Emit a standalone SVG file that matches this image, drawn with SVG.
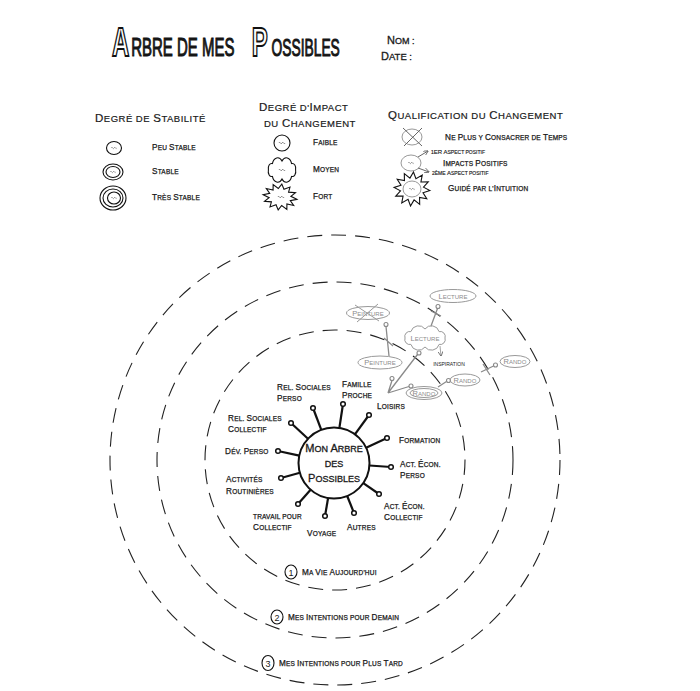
<svg xmlns="http://www.w3.org/2000/svg" width="700" height="691" viewBox="0 0 700 691">
<defs>
<style>
text{font-family:"Liberation Sans",Arial,sans-serif;fill:#1a1a1a}
.s{font-size:6.5px;letter-spacing:.2px;stroke:#1a1a1a;stroke-width:.25}
.c{font-size:8.2px}
.h{font-size:9.5px;letter-spacing:.5px;stroke:#1a1a1a;stroke-width:.2}
.hc{font-size:11.5px}
.x{font-size:5px;stroke:#1a1a1a;stroke-width:.15}
.xc{font-size:6px}
.gt{font-size:6px;fill:#8c8c8c;text-anchor:middle}
.gtc{font-size:7.5px}
.ctr{font-size:9px;text-anchor:middle;stroke:#1a1a1a;stroke-width:.3}
.ctrc{font-size:11px}
.tt{stroke:#111;stroke-width:1}
.ring{fill:none;stroke:#222;stroke-width:1.1;stroke-dasharray:15 9}
.k{fill:none;stroke:#111;stroke-width:1.1}
.gk{fill:none;stroke:#999;stroke-width:1}
.sq{fill:none;stroke:#333;stroke-width:.7}
.spoke{stroke:#111;stroke-width:2.2}
.dot{fill:#fff;stroke:#111;stroke-width:1.5}
.gdot{fill:#fff;stroke:#888;stroke-width:1.1}
.gl{stroke:#8a8a8a;stroke-width:1.3;fill:none}
.big{font-weight:bold;fill:#fff;stroke:#111;stroke-width:2}
</style>
<path id="cloud" vector-effect="non-scaling-stroke" d="M20,0 A5,5 0 0 1 14.1,6.4 A8,8 0 0 1 0,9 A8,8 0 0 1 -14.1,6.4 A5,5 0 0 1 -20,0 A5,5 0 0 1 -14.1,-6.4 A8,8 0 0 1 0,-9 A8,8 0 0 1 14.1,-6.4 A5,5 0 0 1 20,0 Z"/>
<polygon id="star" vector-effect="non-scaling-stroke" points="1,0 .628,.168 .866,.5 .46,.46 .5,.866 .168,.628 0,1 -.168,.628 -.5,.866 -.46,.46 -.866,.5 -.628,.168 -1,0 -.628,-.168 -.866,-.5 -.46,-.46 -.5,-.866 -.168,-.628 0,-1 .168,-.628 .5,-.866 .46,-.46 .866,-.5 .628,-.168"/>
<path id="sq" d="M-4,0 q1,-2 2,0 t2,0 t2,0 t2,0"/>
<marker id="ah" viewBox="0 0 6 6" refX="5.5" refY="3" markerWidth="5" markerHeight="5" markerUnits="userSpaceOnUse" orient="auto">
<path d="M0,0 L6,3 L0,6" fill="none" stroke="#666" stroke-width="1"/>
</marker>
</defs>
<rect width="700" height="691" fill="#fff"/>

<g id="title">
<text transform="translate(112,56) scale(0.6,1)"><tspan class="big" font-size="40" x="0">A</tspan><tspan class="tt" font-size="25" x="32">RBRE DE MES</tspan><tspan class="big" font-size="40" x="233">P</tspan><tspan class="tt" font-size="23" x="266">OSSIBLES</tspan></text>
<text x="387" y="44" font-size="9" stroke="#1a1a1a" stroke-width=".3"><tspan font-size="11">N</tspan>OM :</text>
<text x="381" y="60" font-size="9.5" stroke="#1a1a1a" stroke-width=".3"><tspan font-size="11">D</tspan>ATE :</text>
</g>

<g id="legend-stability">
<text class="h" x="95" y="122"><tspan class="hc">D</tspan>EGRÉ DE <tspan class="hc">S</tspan>TABILITÉ</text>
<ellipse class="k" cx="114" cy="148" rx="7.5" ry="6.5"/>
<use href="#sq" class="sq" transform="translate(114,148) scale(.7)"/>
<text class="s" x="152" y="150"><tspan class="c">P</tspan>EU <tspan class="c">S</tspan>TABLE</text>
<ellipse class="k" cx="113" cy="172" rx="10" ry="8"/>
<ellipse class="k" cx="113" cy="172" rx="7" ry="5.5"/>
<use href="#sq" class="sq" transform="translate(113,172) scale(.7)"/>
<text class="s" x="152" y="174"><tspan class="c">S</tspan>TABLE</text>
<ellipse class="k" cx="113" cy="198" rx="13" ry="12"/>
<ellipse class="k" cx="113" cy="198" rx="10" ry="9"/>
<ellipse class="k" cx="114" cy="198" rx="6.5" ry="6"/>
<use href="#sq" class="sq" transform="translate(114,198) scale(.7)"/>
<text class="s" x="152" y="200"><tspan class="c">T</tspan>RÈS <tspan class="c">S</tspan>TABLE</text>
</g>

<g id="legend-impact">
<text class="h" x="259" y="111"><tspan class="hc">D</tspan>EGRÉ D'<tspan class="hc">I</tspan>MPACT</text>
<text class="h" x="264" y="127">DU <tspan class="hc">C</tspan>HANGEMENT</text>
<circle class="k" cx="282" cy="143" r="8"/>
<use href="#sq" class="sq" transform="translate(282,143) scale(.8)"/>
<text class="s" x="313" y="145"><tspan class="c">F</tspan>AIBLE</text>
<use href="#cloud" class="k" transform="translate(282,170) scale(.68,1)"/>
<use href="#sq" class="sq" transform="translate(282,170) scale(.8)"/>
<text class="s" x="313" y="172"><tspan class="c">M</tspan>OYEN</text>
<use href="#star" class="k" transform="translate(280,197) rotate(8) scale(17,13)"/>
<use href="#sq" class="sq" transform="translate(281,197) scale(.8)"/>
<text class="s" x="313" y="199"><tspan class="c">F</tspan>ORT</text>
</g>

<g id="legend-qualification">
<text class="h" x="388" y="119"><tspan class="hc">Q</tspan>UALIFICATION DU <tspan class="hc">C</tspan>HANGEMENT</text>
<ellipse class="gk" cx="412" cy="137" rx="10" ry="8"/>
<path d="M403,128 L422,146 M422,128 L404,146" stroke="#666" stroke-width="1" fill="none"/>
<text class="s" x="445" y="139.5"><tspan class="c">N</tspan>E <tspan class="c">P</tspan>LUS Y <tspan class="c">C</tspan>ONSACRER DE <tspan class="c">T</tspan>EMPS</text>
<ellipse class="gk" cx="411" cy="163" rx="10" ry="8"/>
<use href="#sq" class="sq" transform="translate(411,163) scale(.7)"/>
<path d="M418,157 L428,151" stroke="#555" stroke-width=".9" fill="none" marker-end="url(#ah)"/>
<path d="M418,168 L429,172" stroke="#555" stroke-width=".9" fill="none" marker-end="url(#ah)"/>
<text class="x" x="431" y="154">1<tspan class="xc">ER</tspan> <tspan class="xc">A</tspan>SPECT POSITIF</text>
<text class="s" x="443" y="165.5"><tspan class="c">I</tspan>MPACTS <tspan class="c">P</tspan>OSITIFS</text>
<text class="x" x="432" y="174.5">2ÈME <tspan class="xc">A</tspan>SPECT POSITIF</text>
<use href="#star" class="k" transform="translate(412,189) rotate(5) scale(18,17)"/>
<ellipse class="gk" cx="412" cy="189" rx="9" ry="8"/>
<use href="#sq" class="sq" transform="translate(412,189) scale(.7)"/>
<text class="s" x="448" y="191"><tspan class="c">G</tspan>UIDÉ PAR L'<tspan class="c">I</tspan>NTUITION</text>
</g>

<g id="rings">
<circle class="ring" cx="335" cy="460" r="130"/>
<circle class="ring" cx="335" cy="460" r="178"/>
<circle class="ring" cx="335" cy="460" r="225"/>
</g>

<g id="ring-labels">
<ellipse class="k" cx="291" cy="572" rx="6" ry="7"/>
<text x="291" y="575.5" font-size="9" text-anchor="middle">1</text>
<text class="s" x="302" y="575"><tspan class="c">M</tspan>A <tspan class="c">V</tspan>IE <tspan class="c">A</tspan>UJOURD'HUI</text>
<ellipse class="k" cx="277" cy="617" rx="6" ry="7"/>
<text x="277" y="620.5" font-size="9" text-anchor="middle">2</text>
<text class="s" x="288" y="620"><tspan class="c">M</tspan>ES <tspan class="c">I</tspan>NTENTIONS POUR <tspan class="c">D</tspan>EMAIN</text>
<ellipse class="k" cx="268" cy="663" rx="6" ry="7.5"/>
<text x="268" y="666.5" font-size="9" text-anchor="middle">3</text>
<text class="s" x="279" y="666"><tspan class="c">M</tspan>ES <tspan class="c">I</tspan>NTENTIONS POUR <tspan class="c">P</tspan>LUS <tspan class="c">T</tspan>ARD</text>
</g>

<g id="center-node">
<circle cx="334" cy="463" r="35.5" fill="#fff" stroke="#111" stroke-width="2"/>
<text class="ctr" x="334" y="452"><tspan class="ctrc">M</tspan>ON <tspan class="ctrc">A</tspan>RBRE</text>
<text class="ctr" x="334" y="467">DES</text>
<text class="ctr" x="334" y="482"><tspan class="ctrc">P</tspan>OSSIBLES</text>
<g id="spokes">
<line class="spoke" x1="321.3" y1="429.8" x2="313" y2="408"/>
<line class="spoke" x1="339.4" y1="427.9" x2="343" y2="404"/>
<line class="spoke" x1="354.9" y1="434.3" x2="369" y2="415"/>
<line class="spoke" x1="366.1" y1="447.8" x2="387" y2="438"/>
<line class="spoke" x1="369.4" y1="465.5" x2="391" y2="467"/>
<line class="spoke" x1="363.3" y1="483.2" x2="379" y2="494"/>
<line class="spoke" x1="347.2" y1="496" x2="354" y2="513"/>
<line class="spoke" x1="328.1" y1="498" x2="325" y2="516"/>
<line class="spoke" x1="310.6" y1="489.7" x2="298" y2="504"/>
<line class="spoke" x1="299.9" y1="472.7" x2="281" y2="478"/>
<line class="spoke" x1="299.3" y1="455.6" x2="278" y2="451"/>
<line class="spoke" x1="308" y1="438.8" x2="291" y2="423"/>
<circle class="dot" cx="313" cy="408" r="2.3"/>
<circle class="dot" cx="343" cy="404" r="2.3"/>
<circle class="dot" cx="369" cy="415" r="2.3"/>
<circle class="dot" cx="387" cy="438" r="2.3"/>
<circle class="dot" cx="391" cy="467" r="2.3"/>
<circle class="dot" cx="379" cy="494" r="2.3"/>
<circle class="dot" cx="354" cy="513" r="2.3"/>
<circle class="dot" cx="325" cy="516" r="2.3"/>
<circle class="dot" cx="298" cy="504" r="2.3"/>
<circle class="dot" cx="281" cy="478" r="2.3"/>
<circle class="dot" cx="278" cy="451" r="2.3"/>
<circle class="dot" cx="291" cy="423" r="2.3"/>
</g>
</g>

<g id="label-rel-sociales-perso"><text class="s" x="277" y="390"><tspan class="c">R</tspan>EL. <tspan class="c">S</tspan>OCIALES</text><text class="s" x="277" y="401"><tspan class="c">P</tspan>ERSO</text></g>
<g id="label-famille-proche"><text class="s" x="342" y="387"><tspan class="c">F</tspan>AMILLE</text><text class="s" x="342" y="398"><tspan class="c">P</tspan>ROCHE</text></g>
<g id="label-loisirs"><text class="s" x="377" y="409"><tspan class="c">L</tspan>OISIRS</text></g>
<g id="label-rel-sociales-collectif"><text class="s" x="228" y="421"><tspan class="c">R</tspan>EL. <tspan class="c">S</tspan>OCIALES</text><text class="s" x="228" y="432"><tspan class="c">C</tspan>OLLECTIF</text></g>
<g id="label-dev-perso"><text class="s" x="225" y="454"><tspan class="c">D</tspan>ÉV. <tspan class="c">P</tspan>ERSO</text></g>
<g id="label-activites"><text class="s" x="226" y="482"><tspan class="c">A</tspan>CTIVITÉS</text><text class="s" x="226" y="494"><tspan class="c">R</tspan>OUTINIÈRES</text></g>
<g id="label-travail"><text class="s" x="253" y="519">TRAVAIL POUR</text><text class="s" x="253" y="530"><tspan class="c">C</tspan>OLLECTIF</text></g>
<g id="label-voyage"><text class="s" x="307" y="536"><tspan class="c">V</tspan>OYAGE</text></g>
<g id="label-autres"><text class="s" x="347" y="530"><tspan class="c">A</tspan>UTRES</text></g>
<g id="label-act-econ-collectif"><text class="s" x="384" y="509"><tspan class="c">A</tspan>CT. <tspan class="c">É</tspan>CON.</text><text class="s" x="384" y="520"><tspan class="c">C</tspan>OLLECTIF</text></g>
<g id="label-formation"><text class="s" x="399" y="443"><tspan class="c">F</tspan>ORMATION</text></g>
<g id="label-act-econ-perso"><text class="s" x="400" y="467"><tspan class="c">A</tspan>CT. <tspan class="c">É</tspan>CON.</text><text class="s" x="400" y="478"><tspan class="c">P</tspan>ERSO</text></g>

<g id="connectors">
<path class="gl" d="M388,393 L392,380.5 M388,393 L417.5,354.5 M388,393 L409,386.5"/>
<path class="gl" d="M389,356 L386,326.5 M384,338 L393,346"/>
<path class="gl" d="M431,326 L437.5,308.5 M431,311 L441,316"/>
<path class="gl" d="M438,387 L446.5,381.5"/>
<path class="gl" d="M481,372 L493.5,366 M483,364 L490,375"/>
<path d="M440,346 L441,356" stroke="#999" stroke-width=".9" fill="none" marker-end="url(#ah)"/>
<circle class="gdot" cx="392" cy="378.5" r="2"/>
<circle class="gdot" cx="419" cy="353" r="2"/>
<circle class="gdot" cx="411" cy="386" r="2"/>
<circle class="gdot" cx="386" cy="324.5" r="2"/>
<circle class="gdot" cx="438" cy="306.5" r="2"/>
<circle class="gdot" cx="448.5" cy="380.5" r="2"/>
<circle class="gdot" cx="495.5" cy="365" r="2"/>
</g>

<g id="node-peinture-crossed">
<ellipse class="gk" cx="368" cy="313" rx="21.5" ry="6.5"/>
<text class="gt" x="368" y="315.5"><tspan class="gtc">P</tspan>EINTURE</text>
<path d="M355,305 L379,321 M378,304 L357,322" stroke="#999" stroke-width="1" fill="none"/>
</g>
<g id="node-peinture">
<ellipse class="gk" cx="380" cy="362.5" rx="22" ry="6.5"/>
<text class="gt" x="380" y="365"><tspan class="gtc">P</tspan>EINTURE</text>
</g>
<g id="node-lecture-cloud">
<use href="#cloud" class="gk" transform="translate(425,338)"/>
<text class="gt" x="425" y="340.5"><tspan class="gtc">L</tspan>ECTURE</text>
</g>
<g id="node-lecture-top">
<ellipse class="gk" cx="453" cy="296" rx="23" ry="6.5"/>
<text class="gt" x="453" y="298.5"><tspan class="gtc">L</tspan>ECTURE</text>
</g>
<g id="node-inspiration">
<text x="449" y="365.5" font-size="5" fill="#9a9a9a" text-anchor="middle">INSPIRATION</text>
</g>
<g id="node-rando-double">
<ellipse class="gk" cx="424" cy="393" rx="18" ry="6.5"/>
<ellipse class="gk" cx="424" cy="393" rx="14" ry="4.5"/>
<text class="gt" x="424" y="395.5"><tspan class="gtc">R</tspan>ANDO</text>
</g>
<g id="node-rando-mid">
<ellipse class="gk" cx="465" cy="380" rx="15" ry="6"/>
<text class="gt" x="465" y="382.5"><tspan class="gtc">R</tspan>ANDO</text>
</g>
<g id="node-rando-right">
<ellipse class="gk" cx="515" cy="361.5" rx="15" ry="6"/>
<text class="gt" x="515" y="364"><tspan class="gtc">R</tspan>ANDO</text>
</g>
</svg>
